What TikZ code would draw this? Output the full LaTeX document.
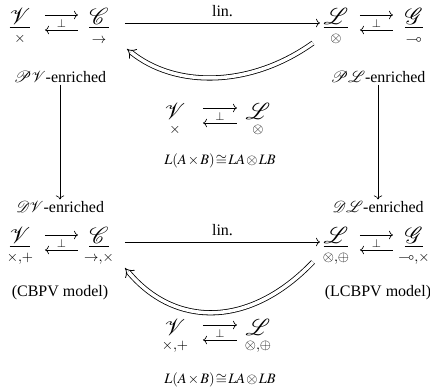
\documentclass[tikz,border=0pt]{standalone}
\usepackage{amsmath,amssymb}
\usepackage{mathptmx}
\usepackage[no-math]{fontspec}
\setmainfont{Liberation Serif}
\usetikzlibrary{arrows.meta,calc}
\newcommand\subsz[1]{\hbox{\fontsize{12}{14}\selectfont$\scriptstyle #1$}}
\newcommand\ob[2]{\underset{\subsz{#2}}{\underline{\mathcal #1}}}
\newcommand\obm[2]{\underset{\subsz{#2}}{\mathcal #1}}
\newcommand\isotext{$L(A\mkern1.5mu{\times}\mkern1.5mu B)\mkern1.5mu{\cong}\mkern1.5mu LA\mkern1.5mu{\otimes}\mkern1.5mu LB$}
\begin{document}
\begin{tikzpicture}[x=0.625pt,y=-0.625pt,
  every node/.style={inner sep=1pt},
  obj/.style={font=\Large},
  lbl/.style={font=\normalsize},
  adj/.style={->},
  dbl/.style={double, double distance=2.2pt, -{Implies[length=4pt]}, line width=0.5pt},
  iso/.style={font=\small}]
\useasboundingbox (0,0) rectangle (430,392);
% top row
\node[obj] (V1) at (20,27) {$\ob{V}{\times}$};
\node[obj] (C1) at (99,27) {$\ob{C}{\to}$};
\node[obj] (L1) at (336,27) {$\ob{L}{\otimes}$};
\node[obj] (G1) at (414,27) {$\ob{G}{\multimap}$};
\node[lbl] (PV) at (60,77) {$\mathcal P\mathcal V$-enriched};
\node[lbl] (PL) at (378,77) {$\mathcal P\mathcal L$-enriched};
% adjunctions top
\draw[adj] (45,15) coordinate (a1) -- (78,15) coordinate (a2);
\draw[adj] (78,30) coordinate (a3) -- (45,30) coordinate (a4);
\node (b1) at (61.5,23) {$\scriptstyle\perp$};
\draw[adj] (360,15) coordinate (a5) -- (393,15) coordinate (a6);
\draw[adj] (393,30) coordinate (a7) -- (360,30) coordinate (a8);
\node (b2) at (376.5,23) {$\scriptstyle\perp$};
% lin arrow top
\draw[->] (125,23) coordinate (l1) -- node[above=3pt]{lin.} (320,23) coordinate (l2);
% middle top
\node[obj] (VM1) at (175,120) {$\obm{V}{\times}$};
\node[obj] (LM1) at (258,120) {$\obm{L}{\otimes}$};
\draw[adj] (203,108) coordinate (a9) -- (237,108) coordinate (a10);
\draw[adj] (237,123) coordinate (a11) -- (203,123) coordinate (a12);
\node (b3) at (220,116) {$\scriptstyle\perp$};
\node[iso] (I1) at (220,161) {\isotext};
\draw[dbl] (313,43) coordinate (d1) .. controls (250,88) and (175,88) .. (127,49) coordinate (d2);
% vertical arrows
\node[lbl] (DV) at (60,207) {$\mathcal D\mathcal V$-enriched};
\node[lbl] (DL) at (378,207) {$\mathcal D\mathcal L$-enriched};
\draw[->] (PV) -- (DV);
\draw[->] (PL) -- (DL);
% bottom row
\node[obj] (V2) at (20,247) {$\ob{V}{\times,+}$};
\node[obj] (C2) at (99,247) {$\ob{C}{\to,\times}$};
\node[obj] (L2) at (336,247) {$\ob{L}{\otimes,\oplus}$};
\node[obj] (G2) at (414,247) {$\ob{G}{\multimap,\times}$};
\node[lbl] (CB) at (60,293) {(CBPV model)};
\node[lbl] (LCB) at (378,293) {(LCBPV model)};
\draw[adj] (45,235) coordinate (c1) -- (78,235) coordinate (c2);
\draw[adj] (78,250) coordinate (c3) -- (45,250) coordinate (c4);
\node (b4) at (61.5,243) {$\scriptstyle\perp$};
\draw[adj] (360,235) coordinate (c5) -- (393,235) coordinate (c6);
\draw[adj] (393,250) coordinate (c7) -- (360,250) coordinate (c8);
\node (b5) at (376.5,243) {$\scriptstyle\perp$};
\draw[->] (125,242) coordinate (l3) -- node[above=3pt]{lin.} (320,242) coordinate (l4);
% middle bottom
\node[obj] (VM2) at (175,337) {$\obm{V}{\times,+}$};
\node[obj] (LM2) at (258,337) {$\obm{L}{\otimes,\oplus}$};
\draw[adj] (203,325) coordinate (c9) -- (237,325) coordinate (c10);
\draw[adj] (237,340) coordinate (c11) -- (203,340) coordinate (c12);
\node (b6) at (220,333) {$\scriptstyle\perp$};
\node[iso] (I2) at (220,380) {\isotext};
\draw[dbl] (313,262) coordinate (d3) .. controls (250,328) and (175,328) .. (125,268) coordinate (d4);
\end{tikzpicture}
\end{document}
